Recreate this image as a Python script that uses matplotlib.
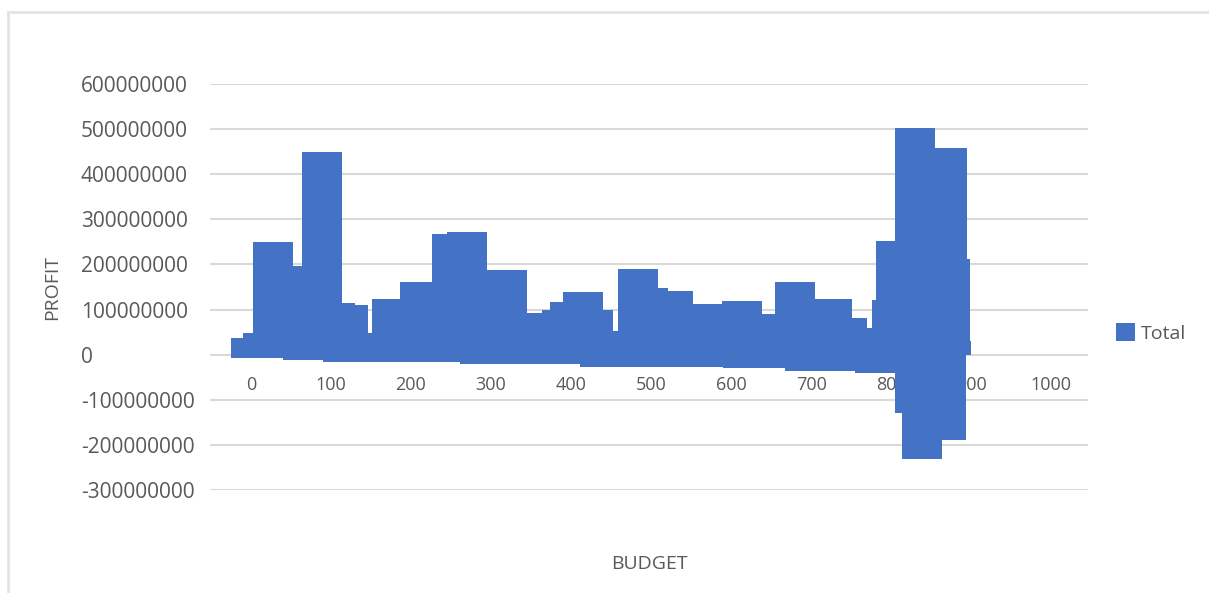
import matplotlib
matplotlib.use("Agg")
import matplotlib.pyplot as plt
from matplotlib.patches import Rectangle

plt.rcParams["font.family"] = ["Open Sans", "DejaVu Sans"]

# budget of each column and its profit
budget = [0, 0, 15, 18, 28, 40, 65, 89, 105, 115, 122, 126, 165, 176, 212, 215,
          236, 251, 270, 286, 320, 336, 339, 386, 389, 399, 415, 428, 434, 436,
          484, 486, 496, 528, 536, 564, 565, 614, 615, 630, 642, 680, 692, 726,
          730, 745, 751, 780, 801, 806, 830, 830, 839, 868, 870, 874, 875]
profit = [36e6, -7e6, 49e6, -7e6, 249e6, 196e6, -11e6, 449e6, 115e6, -17e6,
          111e6, 49e6, -17e6, 124e6, 160e6, -17e6, -17e6, 267e6, 271e6, -20e6,
          187e6, -20e6, 93e6, -20e6, 100e6, 116e6, 140e6, 100e6, 53e6, -27e6,
          191e6, -27e6, 147e6, 142e6, -27e6, 113e6, -27e6, 118e6, -30e6, 91e6,
          -30e6, 160e6, -36e6, 124e6, -36e6, 82e6, 60e6, -40e6, 122e6, 251e6,
          502e6, -129e6, -231e6, -189e6, 458e6, 213e6, 31e6]

x_ticks = [0, 100, 200, 300, 400, 500, 600, 700, 800, 900, 1000]
y_ticks = [-300000000, -200000000, -100000000, 0, 100000000, 200000000,
           300000000, 400000000, 500000000, 600000000]

W, H = 1209, 593
fig = plt.figure(figsize=(W / 100, H / 100), dpi=100)
ax = fig.add_axes([210 / W, 1 - 490 / H, 878 / W, 406 / H])

txt = "#595959"
grid = "#D9D9D9"

ax.bar(budget, profit, width=50, color="#4472C4", linewidth=0, zorder=3,
       label="Total")

ax.set_xlim(-51, 1046)
ax.set_ylim(-300000000, 600000000)
ax.set_xticks(x_ticks)
ax.set_xticklabels([str(v) for v in x_ticks])
ax.set_yticks(y_ticks)
ax.set_yticklabels([str(v) for v in y_ticks])

for s in ["left", "right", "top"]:
    ax.spines[s].set_visible(False)
ax.spines["bottom"].set_position(("data", 0))
ax.spines["bottom"].set_visible(False)

ax.yaxis.grid(True, color=grid, linewidth=1.5)
ax.tick_params(axis="y", length=0, pad=93, labelsize=15, labelcolor=txt)
for lab in ax.get_yticklabels():
    lab.set_horizontalalignment("left")
ax.tick_params(axis="x", length=0, pad=15, labelsize=13, labelcolor=txt)

ax.set_ylabel("PROFIT", fontsize=14, color=txt)
ax.yaxis.set_label_coords(-0.169, 0.5)
ax.set_xlabel("BUDGET", fontsize=14, color=txt)
ax.xaxis.set_label_coords(0.5, -0.182)
ax.xaxis.label.set_verticalalignment("center")

fig.legend(loc="center left", bbox_to_anchor=(1106 / W, 1 - 333 / H),
           frameon=False, fontsize=14, labelcolor=txt, handlelength=1.0,
           handleheight=1.0, handletextpad=0.3, borderpad=0)

# chart frame
fig.patches.append(Rectangle((8 / W, -0.1), 1.2, 1.1 - 12 / H,
                             transform=fig.transFigure, fill=False,
                             edgecolor="#E3E3E3", linewidth=2))

fig.savefig("out.png", dpi=100)
